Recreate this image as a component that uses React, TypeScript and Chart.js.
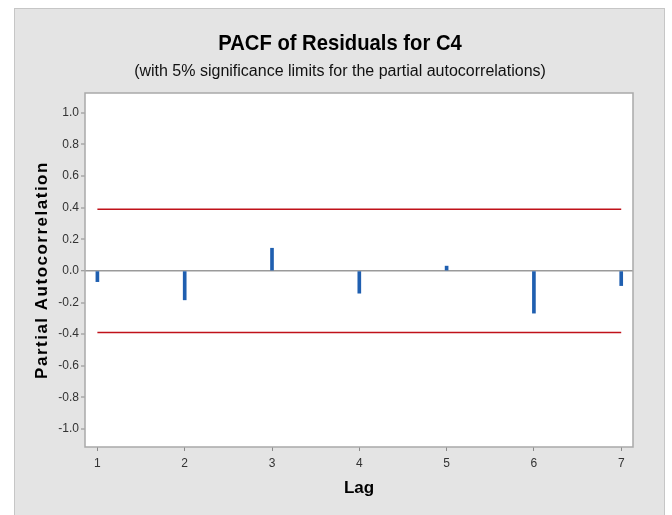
import React, { useEffect, useRef } from "react";
import { Chart, registerables } from "chart.js";

Chart.register(...registerables);

const lags = [1, 2, 3, 4, 5, 6, 7];
const pacfValues = [-0.068, -0.183, 0.143, -0.141, 0.03, -0.267, -0.093];
const upperLimit = 0.39;
const lowerLimit = -0.39;
const yTickValues = [-1.0, -0.8, -0.6, -0.4, -0.2, 0.0, 0.2, 0.4, 0.6, 0.8, 1.0];
const xTickValues = [1, 2, 3, 4, 5, 6, 7];
const titleText = "PACF of Residuals for C4";
const subtitleText = "(with 5% significance limits for the partial autocorrelations)";
const yAxisTitle = "Partial Autocorrelation";
const xAxisTitle = "Lag";

const FONT = "'Liberation Sans', Arial, sans-serif";

const framePlugin = {
  id: "frame",
  beforeDraw(chart: any) {
    const { ctx, chartArea } = chart;
    ctx.save();
    ctx.fillStyle = "#ffffff";
    ctx.fillRect(chartArea.left, chartArea.top, chartArea.right - chartArea.left, chartArea.bottom - chartArea.top);
    ctx.restore();
  },
  beforeDatasetsDraw(chart: any) {
    const { ctx, chartArea } = chart;
    ctx.save();
    ctx.strokeStyle = "#a9a9a9";
    ctx.lineWidth = 1.5;
    ctx.strokeRect(chartArea.left, chartArea.top, chartArea.right - chartArea.left, chartArea.bottom - chartArea.top);
    ctx.restore();
  },
  afterDraw(chart: any) {
    const { ctx } = chart;
    ctx.save();
    ctx.fillStyle = "#000000";
    ctx.textAlign = "center";
    ctx.textBaseline = "middle";
    // title (slightly condensed)
    ctx.save();
    ctx.translate(340, 44);
    ctx.scale(0.92, 1);
    ctx.font = `bold 22px ${FONT}`;
    ctx.fillText(titleText, 0, 0);
    ctx.restore();
    ctx.font = `16px ${FONT}`;
    ctx.fillStyle = "#111111";
    ctx.fillText(subtitleText, 340, 72);
    ctx.font = `bold 17px ${FONT}`;
    ctx.fillStyle = "#000000";
    ctx.fillText(xAxisTitle, 359, 488);
    ctx.save();
    ctx.translate(42, 270);
    ctx.rotate(-Math.PI / 2);
    ctx.font = `bold 17px ${FONT}`;
    try {
      (ctx as any).letterSpacing = "1.5px";
    } catch (e) {}
    ctx.fillText(yAxisTitle, 0, 0);
    ctx.restore();
    ctx.restore();
  },
};

export default function App() {
  const canvasRef = useRef<HTMLCanvasElement | null>(null);

  useEffect(() => {
    if (!canvasRef.current) return;
    const chart = new Chart(canvasRef.current, {
      type: "bar",
      data: {
        datasets: [
          {
            type: "bar",
            data: lags.map((l, i) => ({ x: l, y: pacfValues[i] })),
            backgroundColor: "#1f5fb0",
            borderWidth: 0,
            barThickness: 3,
            order: 2,
          } as any,
          {
            type: "line",
            data: [
              { x: lags[0], y: upperLimit },
              { x: lags[lags.length - 1], y: upperLimit },
            ],
            borderColor: "#c0121a",
            borderWidth: 1.5,
            pointRadius: 0,
            order: 1,
          },
          {
            type: "line",
            data: [
              { x: lags[0], y: lowerLimit },
              { x: lags[lags.length - 1], y: lowerLimit },
            ],
            borderColor: "#c0121a",
            borderWidth: 1.5,
            pointRadius: 0,
            order: 1,
          },
        ],
      },
      options: {
        responsive: false,
        animation: false,
        layout: { padding: { left: 0, right: 39, top: 93, bottom: 0 } },
        plugins: { legend: { display: false }, tooltip: { enabled: false } },
        scales: {
          x: {
            type: "linear",
            min: 0.858,
            max: 7.135,
            offset: false,
            afterBuildTicks: (scale: any) => {
              scale.ticks = xTickValues.map((v) => ({ value: v }));
            },
            afterFit: (scale: any) => {
              scale.height = 68;
            },
            border: { display: false },
            grid: {
              offset: false,
              drawOnChartArea: false,
              tickLength: 4,
              tickColor: "#8a8a8a",
              color: "#8a8a8a",
            },
            ticks: {
              color: "#333333",
              font: { family: FONT, size: 12 },
              padding: 5,
              maxRotation: 0,
              callback: (v: any) => String(v),
            },
          },
          y: {
            type: "linear",
            min: -1.113,
            max: 1.124,
            afterBuildTicks: (scale: any) => {
              scale.ticks = yTickValues.map((v) => ({ value: v }));
            },
            afterFit: (scale: any) => {
              scale.width = 85;
            },
            border: { display: false },
            grid: {
              drawOnChartArea: true,
              tickLength: 4,
              lineWidth: (ctx: any) => (ctx.tick && Math.abs(ctx.tick.value) < 1e-9 ? 1.5 : 0),
              color: (ctx: any) => (ctx.tick && Math.abs(ctx.tick.value) < 1e-9 ? "#9a9a9a" : "rgba(0,0,0,0)"),
              tickColor: "#8a8a8a",
              tickWidth: 1,
            },
            ticks: {
              color: "#333333",
              font: { family: FONT, size: 12 },
              padding: 2,
              callback: (v: any) => (Math.round(Number(v) * 10) / 10).toFixed(1),
            },
          },
        },
      },
      plugins: [framePlugin],
    } as any);
    return () => chart.destroy();
  }, []);

  return (
    <div style={{ position: "absolute", left: 0, top: 0, width: 672, height: 515, overflow: "hidden", background: "#ffffff" }}>
      <div
        style={{
          position: "absolute",
          left: 14,
          top: 8,
          width: 651,
          height: 520,
          background: "#e4e4e4",
          border: "1px solid #c6c6c6",
          boxSizing: "border-box",
        }}
      />
      <canvas ref={canvasRef} width={672} height={515} style={{ position: "absolute", left: 0, top: 0 }} />
    </div>
  );
}
